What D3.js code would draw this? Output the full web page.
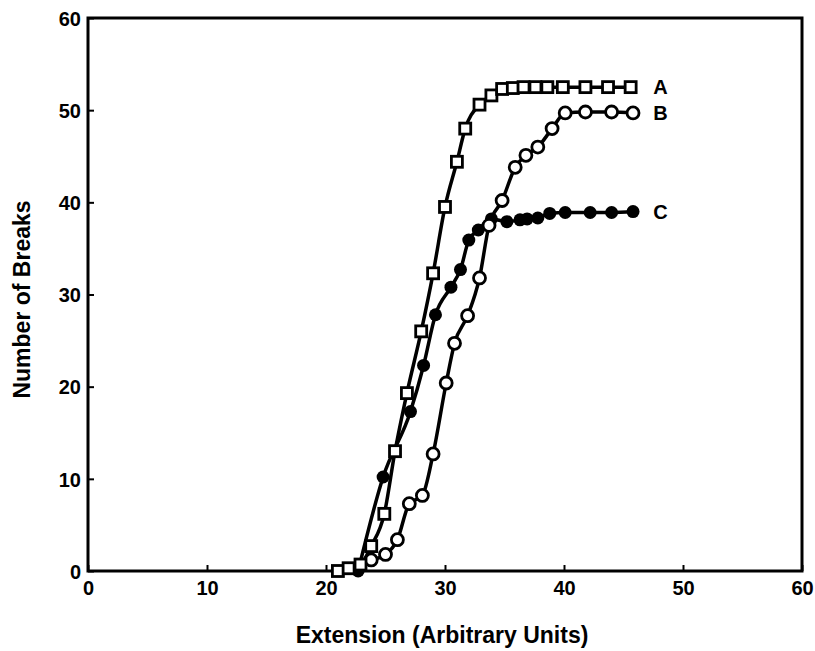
<!DOCTYPE html>
<html>
<head>
<meta charset="utf-8">
<script src="https://cdn.jsdelivr.net/npm/d3@7"></script>
<style>
  body { margin: 0; background: #fff; }
  text { font-family: "Liberation Sans", Arial, sans-serif; font-weight: bold; fill: #000; }
</style>
</head>
<body>
<div id="chart"></div>
<script>
// series A (open squares)
var xA = [21, 21.9, 22.9, 23.8, 24.9, 25.8, 26.8, 28, 29, 30, 31, 31.7, 32.9, 33.9, 34.8, 35.7, 36.6, 37.6, 38.6, 39.9, 41.8, 43.7, 45.6];
var yA = [0, 0.3, 0.7, 2.7, 6.2, 13, 19.3, 26, 32.3, 39.5, 44.4, 48, 50.6, 51.6, 52.3, 52.4, 52.5, 52.5, 52.5, 52.5, 52.5, 52.5, 52.5];
// series B (open circles)
var xB = [23.8, 25, 26, 27, 28.1, 29, 30.1, 30.8, 31.9, 32.9, 33.7, 34.8, 35.9, 36.8, 37.8, 39, 40.1, 41.8, 44, 45.8];
var yB = [1.2, 1.8, 3.4, 7.3, 8.2, 12.7, 20.4, 24.7, 27.7, 31.8, 37.5, 40.2, 43.8, 45.1, 46, 48, 49.7, 49.8, 49.8, 49.7];
// series C (filled circles)
var xC = [22.7, 24.8, 27.1, 28.2, 29.2, 30.5, 31.3, 32, 32.8, 33.9, 35.2, 36.3, 36.9, 37.8, 38.8, 40.1, 42.2, 44, 45.8];
var yC = [0, 10.2, 17.3, 22.3, 27.8, 30.8, 32.7, 35.9, 37, 38.2, 37.9, 38.1, 38.2, 38.3, 38.8, 38.9, 38.9, 38.9, 39];
var seriesNames = ["A", "B", "C"];
var xTicks = [0, 10, 20, 30, 40, 50, 60];
var yTicks = [0, 10, 20, 30, 40, 50, 60];

var width = 815, height = 651;
var margin = {top: 18, right: 13, bottom: 80, left: 88};

var svg = d3.select("#chart").append("svg")
    .attr("width", width)
    .attr("height", height);

var x = d3.scaleLinear().domain([0, 60]).range([margin.left, width - margin.right]);
var y = d3.scaleLinear().domain([0, 60]).range([height - margin.bottom, margin.top]);

// frame
svg.append("rect")
    .attr("x", x(0)).attr("y", y(60))
    .attr("width", x(60) - x(0)).attr("height", y(0) - y(60))
    .attr("fill", "none").attr("stroke", "#000").attr("stroke-width", 3);

// axes with inward ticks
var xAxis = svg.append("g")
    .attr("transform", "translate(0," + y(0) + ")")
    .call(d3.axisBottom(x).tickValues(xTicks).tickSize(-6).tickPadding(10).tickFormat(d3.format("d")));
var yAxis = svg.append("g")
    .attr("transform", "translate(" + x(0) + ",0)")
    .call(d3.axisLeft(y).tickValues(yTicks).tickSize(-6).tickPadding(7).tickFormat(d3.format("d")));
[xAxis, yAxis].forEach(function(g) {
    g.select(".domain").remove();
    g.selectAll(".tick line").attr("stroke", "#000").attr("stroke-width", 2);
    g.selectAll(".tick text").style("font-size", "20px").style("font-weight", "bold")
        .style("font-family", "'Liberation Sans', Arial, sans-serif");
});
xAxis.selectAll(".tick text").attr("dy", "0.71em");
yAxis.selectAll(".tick text").attr("dy", "0.36em");

// axis titles
svg.append("text")
    .attr("x", (x(0) + x(60)) / 2 - 3).attr("y", 643)
    .attr("text-anchor", "middle").style("font-size", "23px")
    .text("Extension (Arbitrary Units)");
svg.append("text")
    .attr("transform", "translate(30," + ((y(0) + y(60)) / 2 + 5) + ") rotate(-90)")
    .attr("text-anchor", "middle").style("font-size", "23px")
    .text("Number of Breaks");

var line = d3.line()
    .x(function(d) { return x(d[0]); })
    .y(function(d) { return y(d[1]); })
    .curve(d3.curveMonotoneX);

var dataA = d3.zip(xA, yA), dataB = d3.zip(xB, yB), dataC = d3.zip(xC, yC);

[dataC, dataB, dataA].forEach(function(data) {
    svg.append("path")
        .datum(data)
        .attr("d", line)
        .attr("fill", "none")
        .attr("stroke", "#000")
        .attr("stroke-width", 3.5);
});

// C markers
svg.selectAll(".ptC").data(dataC).enter().append("circle")
    .attr("cx", function(d) { return x(d[0]); })
    .attr("cy", function(d) { return y(d[1]); })
    .attr("r", 6.5).attr("fill", "#000");

// B markers
svg.selectAll(".ptB").data(dataB).enter().append("circle")
    .attr("cx", function(d) { return x(d[0]); })
    .attr("cy", function(d) { return y(d[1]); })
    .attr("r", 6).attr("fill", "#fff").attr("stroke", "#000").attr("stroke-width", 2.8);

// A markers
svg.selectAll(".ptA").data(dataA).enter().append("rect")
    .attr("x", function(d) { return x(d[0]) - 5.5; })
    .attr("y", function(d) { return y(d[1]) - 5.5; })
    .attr("width", 11).attr("height", 11)
    .attr("fill", "#fff").attr("stroke", "#000").attr("stroke-width", 2.8);

// series labels
var lastY = [yA[yA.length - 1], yB[yB.length - 1], yC[yC.length - 1]];
svg.selectAll(".lbl").data(seriesNames).enter().append("text")
    .attr("x", x(47.5))
    .attr("y", function(d, i) { return y(lastY[i]); })
    .attr("dy", "0.36em")
    .style("font-size", "20px")
    .text(function(d) { return d; });
</script>
</body>
</html>
